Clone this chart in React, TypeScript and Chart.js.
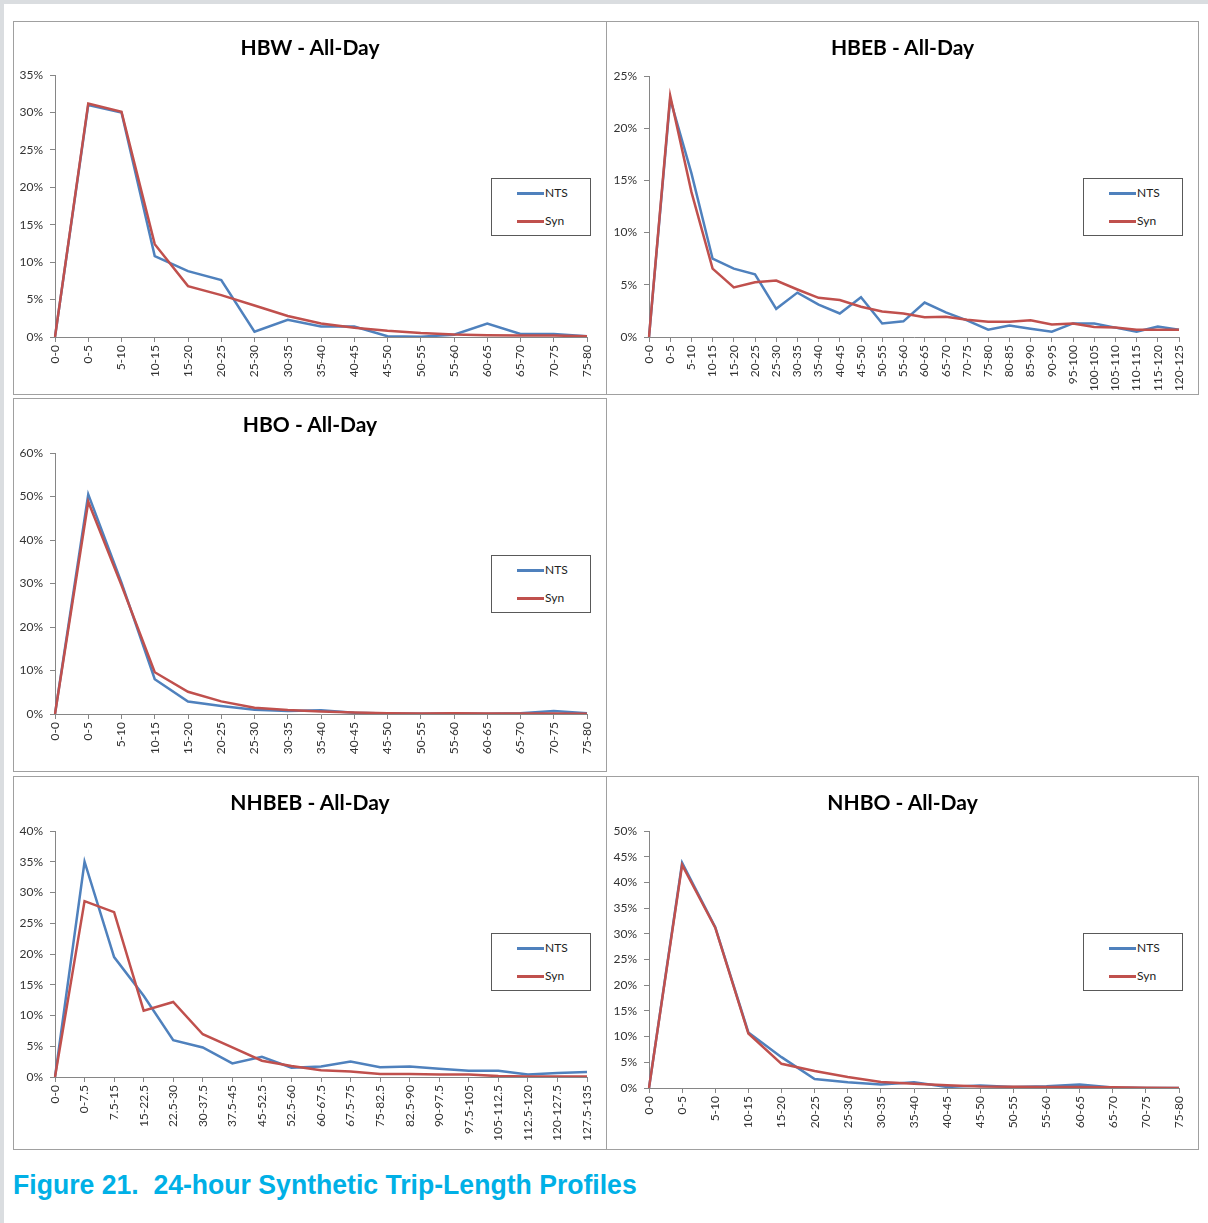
import React, { useEffect, useRef } from "react";
import { Chart, registerables } from "chart.js";

Chart.register(...registerables);

// ---------- Data (percent values) ----------
const LABELS_5_TO_80 = ["0-0", "0-5", "5-10", "10-15", "15-20", "20-25", "25-30", "30-35", "35-40", "40-45", "45-50", "50-55", "55-60", "60-65", "65-70", "70-75", "75-80"];

const HBEB_LABELS = ["0-0", "0-5", "5-10", "10-15", "15-20", "20-25", "25-30", "30-35", "35-40", "40-45", "45-50", "50-55", "55-60", "60-65", "65-70", "70-75", "75-80", "80-85", "85-90", "90-95", "95-100", "100-105", "105-110", "110-115", "115-120", "120-125"];

const NHBEB_LABELS = ["0-0", "0-7.5", "7.5-15", "15-22.5", "22.5-30", "30-37.5", "37.5-45", "45-52.5", "52.5-60", "60-67.5", "67.5-75", "75-82.5", "82.5-90", "90-97.5", "97.5-105", "105-112.5", "112.5-120", "120-127.5", "127.5-135"];

const HBW_NTS = [0, 31.0, 30.0, 10.8, 8.8, 7.6, 0.7, 2.3, 1.4, 1.4, 0.1, 0.05, 0.3, 1.8, 0.4, 0.4, 0.1];
const HBW_SYN = [0, 31.2, 30.1, 12.4, 6.8, 5.6, 4.2, 2.8, 1.8, 1.25, 0.85, 0.55, 0.35, 0.25, 0.2, 0.2, 0.1];

const HBEB_NTS = [0, 22.8, 15.7, 7.5, 6.55, 6.0, 2.7, 4.25, 3.1, 2.25, 3.8, 1.3, 1.5, 3.3, 2.35, 1.6, 0.7, 1.1, 0.8, 0.5, 1.3, 1.3, 0.9, 0.5, 1.0, 0.7];
const HBEB_SYN = [0, 23.1, 13.9, 6.55, 4.75, 5.25, 5.4, 4.55, 3.75, 3.55, 2.9, 2.45, 2.25, 1.9, 1.95, 1.65, 1.45, 1.45, 1.6, 1.2, 1.3, 0.95, 0.9, 0.7, 0.7, 0.7];

const HBO_NTS = [0, 50.5, 30.2, 8.0, 2.85, 1.85, 1.0, 0.7, 0.85, 0.3, 0.1, 0.05, 0.1, 0.05, 0.2, 0.7, 0.2];
const HBO_SYN = [0, 48.8, 29.6, 9.6, 5.1, 2.9, 1.45, 0.9, 0.6, 0.35, 0.2, 0.1, 0.15, 0.1, 0.1, 0.1, 0.05];

const NHBEB_NTS = [0, 35.0, 19.5, 13.2, 6.0, 4.8, 2.2, 3.3, 1.5, 1.7, 2.5, 1.6, 1.7, 1.35, 1.0, 1.0, 0.4, 0.65, 0.8];
const NHBEB_SYN = [0, 28.6, 26.8, 10.8, 12.2, 6.95, 4.8, 2.65, 1.8, 1.1, 0.9, 0.5, 0.5, 0.4, 0.4, 0.15, 0.1, 0.1, 0.1];

const NHBO_NTS = [0, 43.8, 31.3, 10.8, 6.0, 1.75, 1.1, 0.7, 1.1, 0.2, 0.5, 0.2, 0.35, 0.7, 0.1, 0, 0];
const NHBO_SYN = [0, 43.4, 31.2, 10.6, 4.7, 3.3, 2.15, 1.15, 0.85, 0.55, 0.3, 0.25, 0.2, 0.2, 0.15, 0.05, 0];

const SERIES_NAMES = ["NTS", "Syn"];
const SERIES_COLORS = ["#4f81bd", "#c0504d"];

const CAPTION = "Figure 21.  24-hour Synthetic Trip-Length Profiles";

// ---------- Panel ----------
type PanelProps = {
  title: string;
  labels: string[];
  nts: number[];
  syn: number[];
  yMax: number;
  yStep: number;
  left: number;
  top: number;
  width: number;
  height: number;
  plotTop: number;
  axisWidth: number;
  xAxisHeight: number;
};

const FONT = "Lato, 'Open Sans', sans-serif";

function Panel(p: PanelProps) {
  const ref = useRef<HTMLCanvasElement>(null);
  useEffect(() => {
    if (!ref.current) return;
    const chart = new Chart(ref.current, {
      type: "line",
      data: {
        labels: p.labels,
        datasets: [
          {
            label: SERIES_NAMES[0],
            data: p.nts,
            borderColor: SERIES_COLORS[0],
            backgroundColor: SERIES_COLORS[0],
            borderWidth: 2.5,
            pointRadius: 0,
            tension: 0,
            order: 1,
          },
          {
            label: SERIES_NAMES[1],
            data: p.syn,
            borderColor: SERIES_COLORS[1],
            backgroundColor: SERIES_COLORS[1],
            borderWidth: 2.5,
            pointRadius: 0,
            tension: 0,
            order: 0,
          },
        ],
      },
      options: {
        responsive: false,
        animation: false,
        layout: { padding: { left: 0, right: 19, top: p.plotTop, bottom: 0 } },
        plugins: {
          legend: { display: false },
          tooltip: { enabled: false },
          title: { display: false },
        },
        scales: {
          x: {
            offset: false,
            grid: {
              display: true,
              drawOnChartArea: false,
              drawTicks: true,
              tickLength: 5,
              color: "#868686",
            },
            border: { display: true, color: "#868686", width: 1 },
            ticks: {
              autoSkip: false,
              minRotation: 90,
              maxRotation: 90,
              padding: 3,
              color: "#333",
              font: { family: FONT, size: 12 },
            },
            afterFit: (s: any) => {
              s.height = p.xAxisHeight;
            },
          },
          y: {
            min: 0,
            max: p.yMax,
            grid: {
              display: true,
              drawOnChartArea: false,
              drawTicks: true,
              tickLength: 5,
              color: "#868686",
            },
            border: { display: true, color: "#868686", width: 1 },
            ticks: {
              stepSize: p.yStep,
              padding: 7,
              color: "#333",
              font: { family: FONT, size: 12 },
              callback: (v: any) => `${v}%`,
            },
            afterFit: (s: any) => {
              s.width = p.axisWidth;
            },
          },
        },
      },
    });
    return () => chart.destroy();
  }, []);

  return (
    <div
      style={{
        position: "absolute",
        left: p.left,
        top: p.top,
        width: p.width,
        height: p.height,
        border: "1px solid #a0a0a0",
        boxSizing: "border-box",
        background: "#fff",
      }}
    >
      <canvas ref={ref} width={p.width - 2} height={p.height - 2} style={{ display: "block" }} />
      <div
        style={{
          position: "absolute",
          left: 0,
          top: 12,
          width: p.width - 2,
          textAlign: "center",
          fontFamily: FONT,
          fontWeight: "bold",
          fontSize: 21,
          lineHeight: "25px",
          color: "#000",
        }}
      >
        {p.title}
      </div>
      <div
        style={{
          position: "absolute",
          right: 15,
          top: 156,
          width: 100,
          height: 58,
          border: "1px solid #595959",
          boxSizing: "border-box",
          background: "#fff",
          fontFamily: FONT,
          fontSize: 12,
          color: "#222",
        }}
      >
        {SERIES_NAMES.map((name, i) => (
          <div key={name} style={{ position: "absolute", left: 25, top: 6 + i * 28, height: 16, width: 70 }}>
            <div
              style={{
                position: "absolute",
                left: 0,
                top: 7,
                width: 27,
                height: 2.5,
                background: SERIES_COLORS[i],
              }}
            />
            <span style={{ position: "absolute", left: 28, top: 0, lineHeight: "16px" }}>{name}</span>
          </div>
        ))}
      </div>
    </div>
  );
}

export default function App() {
  return (
    <div
      style={{
        position: "absolute",
        left: 0,
        top: 0,
        width: 1208,
        height: 1223,
        background: "#fff",
        overflow: "hidden",
      }}
    >
      <div style={{ position: "absolute", left: 0, top: 0, width: 1208, height: 4, background: "#dadde0" }} />
      <div style={{ position: "absolute", left: 0, top: 0, width: 4, height: 1223, background: "#dadde0" }} />

      <Panel title="HBW - All-Day" labels={LABELS_5_TO_80} nts={HBW_NTS} syn={HBW_SYN} yMax={35} yStep={5}
        left={13} top={21} width={594} height={374} plotTop={53} axisWidth={41} xAxisHeight={57} />
      <Panel title="HBEB - All-Day" labels={HBEB_LABELS} nts={HBEB_NTS} syn={HBEB_SYN} yMax={25} yStep={5}
        left={606} top={21} width={593} height={374} plotTop={54} axisWidth={42} xAxisHeight={57} />
      <Panel title="HBO - All-Day" labels={LABELS_5_TO_80} nts={HBO_NTS} syn={HBO_SYN} yMax={60} yStep={10}
        left={13} top={398} width={594} height={374} plotTop={54} axisWidth={41} xAxisHeight={57} />
      <Panel title="NHBEB - All-Day" labels={NHBEB_LABELS} nts={NHBEB_NTS} syn={NHBEB_SYN} yMax={40} yStep={5}
        left={13} top={776} width={594} height={374} plotTop={54} axisWidth={41} xAxisHeight={72} />
      <Panel title="NHBO - All-Day" labels={LABELS_5_TO_80} nts={NHBO_NTS} syn={NHBO_SYN} yMax={50} yStep={5}
        left={606} top={776} width={593} height={374} plotTop={54} axisWidth={42} xAxisHeight={61} />

      <div
        style={{
          position: "absolute",
          left: 13,
          top: 1171,
          fontFamily: "'Liberation Sans Narrow', 'Arial Narrow', 'Liberation Sans', Arial, sans-serif",
          fontWeight: "bold",
          fontSize: 28,
          lineHeight: "28px",
          color: "#00b0e6",
          whiteSpace: "pre",
          transform: "scaleX(0.95)",
          transformOrigin: "0 0",
        }}
      >
        {CAPTION}
      </div>
    </div>
  );
}
